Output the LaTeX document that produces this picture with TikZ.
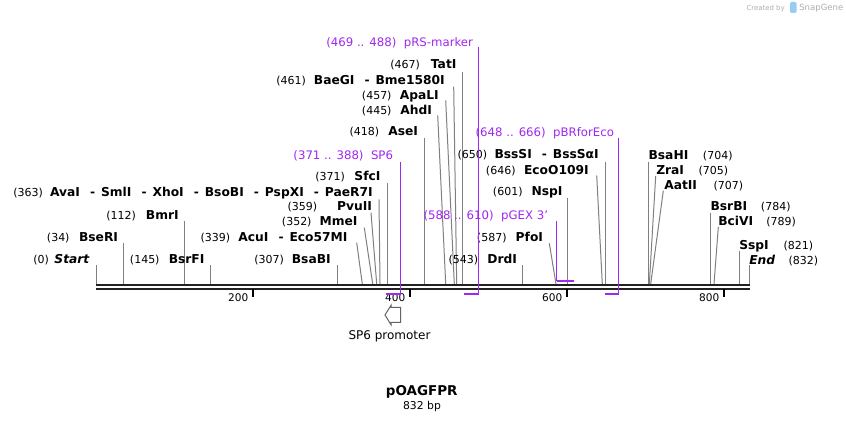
\documentclass[tikz,border=0pt]{standalone}
\usepackage{fontspec}
\setmainfont{DejaVu Sans}
\definecolor{feat}{RGB}{160,40,240}
\definecolor{site}{RGB}{128,128,128}
\definecolor{bb}{RGB}{34,34,34}
\definecolor{wm}{RGB}{175,175,175}
\definecolor{wmblue}{RGB}{150,205,245}
\newcommand\fpos{\fontsize{8.25pt}{9pt}\selectfont}
\newcommand\fnm{\fontsize{9.2pt}{10pt}\selectfont\bfseries}
\newcommand\ffeat{\fontsize{8.8pt}{10pt}\selectfont}
\newcommand\sepr{\hspace{7.6pt}-\hspace{4.4pt}}
\tikzset{
  postxt/.style={inner sep=0pt,font=\fpos,text=black},
  nmtxt/.style={inner sep=0pt,font=\fnm,text=black},
  feattxt/.style={inner sep=0pt,font=\ffeat,text=feat,anchor=base east},
  siteline/.style={draw=site,line width=0.75pt},
  featline/.style={draw=feat,line width=1pt},
  featbar/.style={draw=feat,line width=1.9pt},
  backbone/.style={draw=bb,line width=1.8pt},
  tickmark/.style={draw=black,line width=1.5pt},
  ticktxt/.style={inner sep=0pt,font=\fontsize{7.9pt}{9pt}\selectfont,anchor=base east},
}
% left label: id, pos-start x, pos text, name-end x, name text, y centre, top x, top y, bottom x
\newcommand\LL[9]{%
  \node[postxt,anchor=base west] (p#1) at (#2,#6+4.3) {#3};
  \node[nmtxt,anchor=base east] (n#1) at (#4,#6+4.3) {#5};
  \coordinate (t#1) at (#7,#8);
  \coordinate (b#1) at (#9,284);
  \draw[siteline] (t#1) -- (b#1);}
% right label: id, name-start x, name text, pos-start x, pos text, y centre, top x, top y, bottom x
\newcommand\RR[9]{%
  \node[nmtxt,anchor=base west] (n#1) at (#2,#6+4.3) {#3};
  \node[postxt,anchor=base west] (p#1) at (#4,#6+4.3) {#5};
  \coordinate (t#1) at (#7,#8);
  \coordinate (b#1) at (#9,284);
  \draw[siteline] (t#1) -- (b#1);}
\begin{document}
\begin{tikzpicture}[x=0.75pt,y=-0.75pt]
\useasboundingbox (0,0) rectangle (846,423);
\fill[white] (0,0) rectangle (846,423);

% watermark
\node[inner sep=0pt,anchor=base east,font=\fontsize{5.2pt}{6pt}\selectfont,text=wm] (wm1) at (785,10.5) {Created by};
\fill[wmblue,rounded corners=1pt] (790,2) rectangle (796.5,13);
\node[inner sep=0pt,anchor=base west,font=\fontsize{6.4pt}{7pt}\selectfont,text=wm] (wm2) at (799,11) {SnapGene};

% backbone
\coordinate (bbl1) at (96,285.2); \coordinate (bbr1) at (749.8,285.2);
\coordinate (bbl2) at (96,288.8); \coordinate (bbr2) at (749.8,288.8);
\draw[backbone] (bbl1) -- (bbr1);
\draw[backbone] (bbl2) -- (bbr2);

% ticks
\foreach \v/\xx in {200/252.7,400/409.7,600/566.7,800/723.7}{
  \coordinate (tk\v a) at (\xx,289.5);
  \coordinate (tk\v b) at (\xx,297.5);
  \draw[tickmark] (tk\v a) -- (tk\v b);
  \node[ticktxt] (tl\v) at (\xx-4.2,301.3) {\v};
}

% left labels
\LL{start}{33}{(0)}{90}{\textit{Start}}{259.4}{96.5}{265.5}{96.5}
\LL{bseri}{46.7}{(34)}{118.3}{BseRI}{237}{123.5}{243}{123.5}
\LL{bmri}{106}{(112)}{179}{BmrI}{215.6}{184.3}{221}{184.3}
\LL{bsrfi}{129.7}{(145)}{204.7}{BsrFI}{259.4}{210}{265.5}{210}
\LL{bsabi}{254}{(307)}{331}{BsaBI}{259.4}{337.3}{265.5}{337.3}
\LL{acui}{200.3}{(339)}{347.7}{AcuI\sepr Eco57MI}{236.9}{356.7}{242.7}{362.3}
\LL{mmei}{281.7}{(352)}{357.7}{MmeI}{221.7}{364.3}{227.7}{372.7}
\LL{pvuii}{287.3}{(359)}{372.3}{PvuII}{206.7}{371}{212.7}{376.7}
\LL{avai}{13}{(363)}{373}{AvaI\sepr SmlI\sepr XhoI\sepr BsoBI\sepr PspXI\sepr PaeR7I}{192.3}{379}{199.3}{380}
\LL{sfci}{315}{(371)}{380.7}{SfcI}{176}{387.7}{183.3}{387.7}
\LL{asei}{349.3}{(418)}{418.3}{AseI}{131.7}{424.3}{138}{424.3}
\LL{ahdi}{361.7}{(445)}{432.3}{AhdI}{110}{437.7}{115.5}{445.7}
\LL{apali}{361.7}{(457)}{439}{ApaLI}{95}{445.7}{100.5}{454.3}
\LL{baegi}{276}{(461)}{445}{BaeGI\sepr Bme1580I}{80}{453.7}{86.7}{456.7}
\LL{tati}{390}{(467)}{456.7}{TatI}{64.7}{462.3}{71.7}{462.3}
\LL{drdi}{448.3}{(543)}{517.3}{DrdI}{259.4}{522.3}{265.5}{522.3}
\LL{pfoi}{476.7}{(587)}{543.3}{PfoI}{237.2}{549.3}{243.3}{556}
\LL{nspi}{492.7}{(601)}{562.7}{NspI}{191.7}{567}{198.3}{567}
\LL{eco}{485.7}{(646)}{589}{EcoO109I}{170}{596.7}{175.5}{602.3}
\LL{bsssi}{457.3}{(650)}{599}{BssSI\sepr BssSαI}{154.3}{605.5}{161.7}{605.5}

% right labels
\RR{bsahi}{648.3}{BsaHI}{702.7}{(704)}{155}{648.3}{161.7}{648.3}
\RR{zrai}{656}{ZraI}{698.3}{(705)}{170}{655.7}{176}{649.3}
\RR{aatii}{664}{AatII}{713.3}{(707)}{185}{663.3}{190.7}{650.7}
\RR{bsrbi}{710.3}{BsrBI}{760.7}{(784)}{206.7}{710.3}{213}{710.3}
\RR{bcivi}{718}{BciVI}{766}{(789)}{221.7}{718.3}{227}{714}
\RR{sspi}{739}{SspI}{783.3}{(821)}{245}{739.3}{251}{739.3}
\RR{end}{749}{\textit{End}}{788.3}{(832)}{260}{749.3}{265.5}{749.3}

% features
\node[feattxt] (fprs) at (473.3,46.5) {(469 .. 488)~~pRS-marker};
\coordinate (prsT) at (478.7,47.5); \coordinate (prsB) at (478.7,294); \coordinate (prsS) at (464,294);
\draw[featline] (prsT) -- (prsB);
\draw[featbar] (prsS) -- (prsB);

\node[feattxt] (fsp6) at (393.3,159.5) {(371 .. 388)~~SP6};
\coordinate (sp6T) at (400.5,162); \coordinate (sp6B) at (400.5,294); \coordinate (sp6S) at (386,294);
\draw[featline] (sp6T) -- (sp6B);
\draw[featbar] (sp6S) -- (sp6B);

\node[feattxt] (fpbr) at (614.3,136.2) {(648 .. 666)~~pBRforEco};
\coordinate (pbrT) at (618.5,138); \coordinate (pbrB) at (618.5,294); \coordinate (pbrS) at (604.5,294);
\draw[featline] (pbrT) -- (pbrB);
\draw[featbar] (pbrS) -- (pbrB);

\node[feattxt] (fpgex) at (548.3,219.2) {(588 .. 610)~~pGEX 3\symbol{39}};
\coordinate (pgexT) at (556.5,221); \coordinate (pgexB) at (556.5,281); \coordinate (pgexS) at (574,281);
\draw[featline] (pgexT) -- (pgexB);
\draw[featbar] (pgexB) -- (pgexS);

% SP6 promoter arrow
\draw[draw={rgb,255:red,100;green,100;blue,100},fill=white,line width=0.75pt,line join=miter]
  (385,315) -- (391,305.3) -- (391,307.5) -- (400.7,307.5) -- (400.7,322.5) -- (391,322.5) -- (391,324.7) -- cycle;
\node[inner sep=0pt,font=\fontsize{9pt}{10pt}\selectfont] (sp6prom) at (389.5,336) {SP6 promoter};

% title
\node[inner sep=0pt,font=\fontsize{10.1pt}{11pt}\selectfont\bfseries] (title) at (421.7,391.7) {pOAGFPR};
\node[inner sep=0pt,font=\fontsize{8.1pt}{9pt}\selectfont] (len) at (422,406.7) {832 bp};
\end{tikzpicture}
\end{document}
